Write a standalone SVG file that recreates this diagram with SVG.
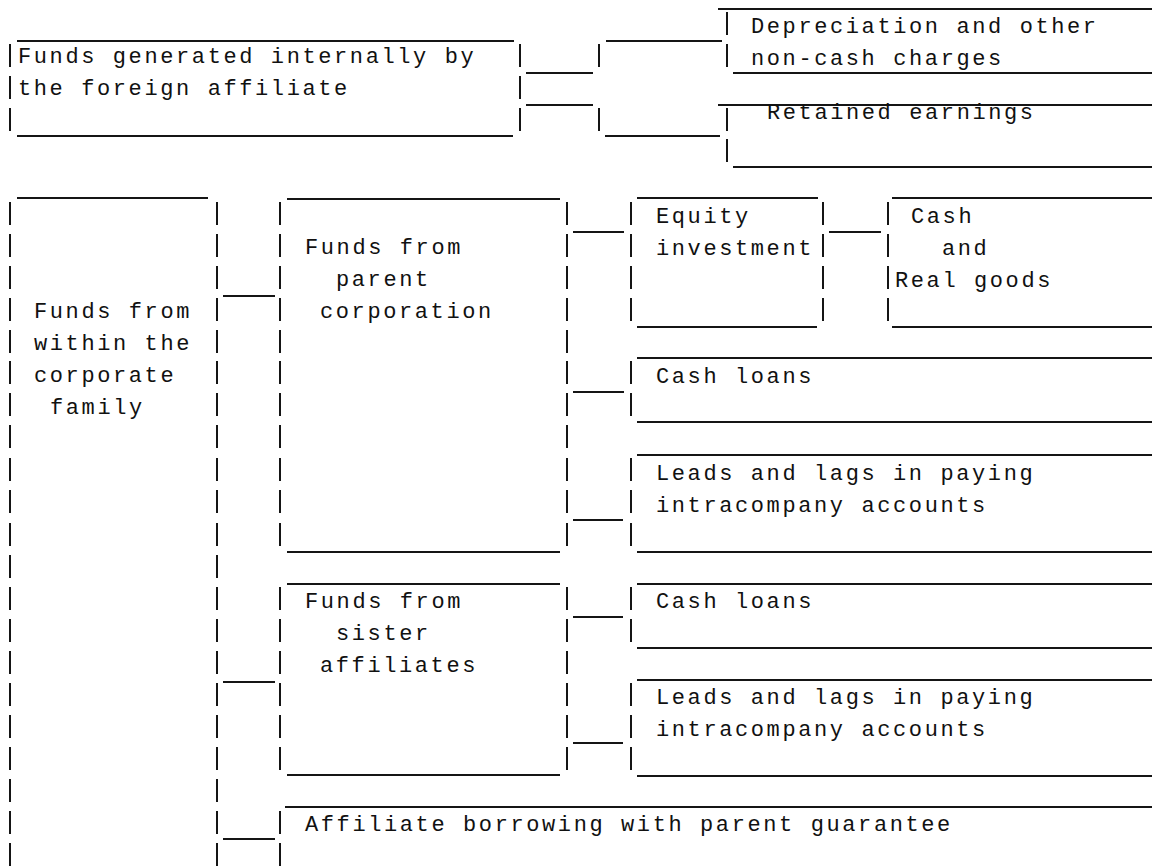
<svg xmlns="http://www.w3.org/2000/svg" width="1152" height="867" viewBox="0 0 1152 867">
<style>
.t{font-family:"Liberation Mono","DejaVu Sans Mono",monospace;font-size:22px;letter-spacing:2.6px;fill:#111}
.l{stroke:#151515;stroke-width:2;fill:none}
</style>
<rect width="1152" height="867" fill="#fff"/>
<g id="connectors" class="l">
<path d="M526 73H593M526 105H593M599 44V67M599 108V131M606 41H722M605 136H720"/>
<path d="M223 296H275M223 682H275M223 839H275"/>
<path d="M573 232H624M829 232H881M573 392H624M573 520H623"/>
<path d="M573 617H623M573 743H623"/>
</g>
<g id="internal">
<path class="l" d="M17 41H514M17 136H513M10 44V67M10 76V99M10 108V131M520 44V67M520 76V99M520 108V131"/>
<text class="t" x="18" y="63">Funds generated internally by</text>
<text class="t" x="18" y="95">the foreign affiliate</text>
</g>
<g id="depreciation">
<path class="l" d="M718 9H1152M733 73H1152M727 12V35M727 44V67"/>
<text class="t" x="751" y="33">Depreciation and other</text>
<text class="t" x="751" y="65">non-cash charges</text>
</g>
<g id="retained">
<path class="l" d="M718 105H1152M733 167H1152M727 108V131M727 139V162"/>
<text class="t" x="767" y="119">Retained earnings</text>
</g>
<g id="within">
<path class="l" d="M17 198H208M10 202V225M10 234V257M10 266V289M10 298V321M10 330V353M10 361V384M10 393V416M10 425V448M10 458V481M10 490V513M10 523V546M10 555V578M10 587V610M10 619V642M10 651V674M10 683V706M10 715V738M10 747V770M10 779V802M10 811V834M10 843V866M217 202V225M217 234V257M217 266V289M217 298V321M217 330V353M217 361V384M217 393V416M217 425V448M217 458V481M217 490V513M217 523V546M217 555V578M217 587V610M217 619V642M217 651V674M217 683V706M217 715V738M217 747V770M217 779V802M217 811V834M217 843V866"/>
<text class="t" x="34" y="318">Funds from</text>
<text class="t" x="34" y="350">within the</text>
<text class="t" x="34" y="382">corporate</text>
<text class="t" x="50" y="414">family</text>
</g>
<g id="parent">
<path class="l" d="M287 199H560M287 552H560M280 202V225M280 234V257M280 266V289M280 298V321M280 330V353M280 361V384M280 393V416M280 425V448M280 458V481M280 490V513M280 523V546M567 202V225M567 234V257M567 266V289M567 298V321M567 330V353M567 361V384M567 393V416M567 425V448M567 458V481M567 490V513M567 523V546"/>
<text class="t" x="305" y="254">Funds from</text>
<text class="t" x="336" y="286">parent</text>
<text class="t" x="320" y="318">corporation</text>
</g>
<g id="equity">
<path class="l" d="M637 198H818M637 327H817M631 202V225M631 234V257M631 266V289M631 298V321M823 202V225M823 234V257M823 266V289M823 298V321"/>
<text class="t" x="656" y="223">Equity</text>
<text class="t" x="656" y="255">investment</text>
</g>
<g id="cash-real">
<path class="l" d="M892 198H1152M892 327H1152M888 202V225M888 234V257M888 266V289M888 298V321"/>
<text class="t" x="911" y="223">Cash</text>
<text class="t" x="942" y="255">and</text>
<text class="t" x="895" y="287">Real goods</text>
</g>
<g id="parent-cash-loans">
<path class="l" d="M637 358H1152M637 422H1152M631 361V384M631 393V416"/>
<text class="t" x="656" y="383">Cash loans</text>
</g>
<g id="parent-leads">
<path class="l" d="M637 455H1152M637 552H1152M631 458V481M631 490V513M631 523V546"/>
<text class="t" x="656" y="480">Leads and lags in paying</text>
<text class="t" x="656" y="512">intracompany accounts</text>
</g>
<g id="sister">
<path class="l" d="M287 584H560M287 775H560M280 587V610M280 619V642M280 651V674M280 683V706M280 715V738M280 747V770M567 587V610M567 619V642M567 651V674M567 683V706M567 715V738M567 747V770"/>
<text class="t" x="305" y="608">Funds from</text>
<text class="t" x="336" y="640">sister</text>
<text class="t" x="320" y="672">affiliates</text>
</g>
<g id="sister-cash-loans">
<path class="l" d="M637 584H1152M637 648H1152M631 587V610M631 619V642"/>
<text class="t" x="656" y="608">Cash loans</text>
</g>
<g id="sister-leads">
<path class="l" d="M637 680H1152M637 776H1152M631 683V706M631 715V738M631 747V770"/>
<text class="t" x="656" y="704">Leads and lags in paying</text>
<text class="t" x="656" y="736">intracompany accounts</text>
</g>
<g id="affiliate-borrowing">
<path class="l" d="M285 807H1152M280 811V834M280 843V866"/>
<text class="t" x="305" y="831">Affiliate borrowing with parent guarantee</text>
</g>
</svg>
